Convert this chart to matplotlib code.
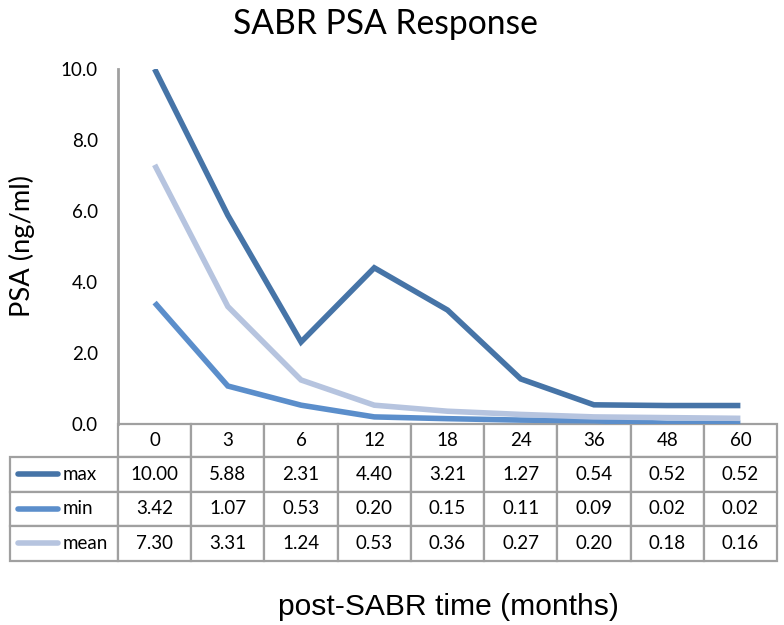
import matplotlib
matplotlib.use("Agg")
import matplotlib.pyplot as plt
from matplotlib.table import Table
from matplotlib.lines import Line2D

months = ["0", "3", "6", "12", "18", "24", "36", "48", "60"]
series_names = ["max", "min", "mean"]
psa_max = [10.00, 5.88, 2.31, 4.40, 3.21, 1.27, 0.54, 0.52, 0.52]
psa_min = [3.42, 1.07, 0.53, 0.20, 0.15, 0.11, 0.09, 0.02, 0.02]
psa_mean = [7.30, 3.31, 1.24, 0.53, 0.36, 0.27, 0.20, 0.18, 0.16]
y_ticks = [0, 2, 4, 6, 8, 10]

colors = ["#4674A7", "#5B8ECB", "#B6C4DF"]
series = [psa_max, psa_min, psa_mean]

FONT = "Lato"
W, H = 784, 625
fig = plt.figure(figsize=(W / 100, H / 100), dpi=100)
renderer = fig.canvas.get_renderer()


def fit_size(text_obj, target_px, horizontal=True):
    """Scale font size so that rendered text extent matches target pixel size."""
    for _ in range(3):
        bb = text_obj.get_window_extent(renderer)
        cur = bb.width if horizontal else bb.height
        text_obj.set_fontsize(text_obj.get_fontsize() * target_px / cur)
    return text_obj.get_fontsize()


# axes geometry in pixels
ax_l, ax_r, ax_t, ax_b = 118, 777, 69, 424
ax_w, ax_h = ax_r - ax_l, ax_b - ax_t
ax = fig.add_axes([ax_l / W, 1 - ax_b / H, ax_w / W, ax_h / H])

x = list(range(len(months)))
for vals, c in zip(series, colors):
    ax.plot(x, vals, color=c, lw=4, solid_capstyle="butt", solid_joinstyle="miter")

ax.set_xlim(-0.5, len(months) - 0.5)
ax.set_ylim(0, 10)
ax.set_yticks(y_ticks)
ax.set_xticks([])
for s in ["top", "right", "bottom"]:
    ax.spines[s].set_visible(False)
ax.spines["left"].set_color("#A0A0A0")
ax.spines["left"].set_linewidth(2)

# size for numbers: fit "10.00" to ~48 px as in the reference
probe = fig.text(0, 0, "10.00", fontfamily=FONT, fontsize=13)
FS = fit_size(probe, 48)
probe.remove()

ax.set_yticklabels([f"{v:.1f}" for v in y_ticks], fontfamily=FONT, fontsize=FS)
ax.tick_params(axis="y", length=0, pad=20 * 72 / 100)

# table
edge = "#A0A0A0"
label_w = (ax_l - 10) / ax_w
col_w = 1 / len(months)
hdr_h = 33 / ax_h
row_h = 34.5 / ax_h

tbl = Table(ax, loc=None)
for j, m in enumerate(months):
    tbl.add_cell(0, j, width=col_w, height=hdr_h, text=m, loc="center",
                 edgecolor=edge, facecolor="white")
for i, (name, vals) in enumerate(zip(series_names, series)):
    cell = tbl.add_cell(i + 1, -1, width=label_w, height=row_h, text=name, loc="left",
                        edgecolor=edge, facecolor="white")
    cell.PAD = 53 / 108
    for j, v in enumerate(vals):
        tbl.add_cell(i + 1, j, width=col_w, height=row_h, text=f"{v:.2f}", loc="center",
                     edgecolor=edge, facecolor="white")
tbl.auto_set_font_size(False)
for (r, c), cell in tbl.get_celld().items():
    cell.set_linewidth(1.6)
    t = cell.get_text()
    t.set_fontfamily(FONT)
    t.set_fontsize(FS)


def place(renderer=None):
    for j in range(len(months)):
        tbl[0, j].set_xy((j * col_w, -hdr_h))
    for i in range(3):
        top = -hdr_h - i * row_h
        tbl[i + 1, -1].set_xy((-label_w, top - row_h))
        for j in range(len(months)):
            tbl[i + 1, j].set_xy((j * col_w, top - row_h))


tbl._update_positions = place
ax.add_table(tbl)

# legend key lines in row label cells
for i, c in enumerate(colors):
    yc = -hdr_h - i * row_h - row_h / 2
    ax.add_line(Line2D([(18 - ax_l) / ax_w, (58 - ax_l) / ax_w], [yc, yc],
                       transform=ax.transAxes, color=c, lw=4, clip_on=False,
                       solid_capstyle="round"))

title = fig.text(385 / W, 1 - 24 / H, "SABR PSA Response", ha="center", va="center",
                 fontfamily=FONT, fontsize=22)
fit_size(title, 305)
ylab = fig.text(22 / W, 1 - 246 / H, "PSA (ng/ml)", ha="center", va="center", rotation=90,
                fontfamily=FONT, fontsize=18)
fit_size(ylab, 142, horizontal=False)
xlab = fig.text(448 / W, 1 - 607 / H, "post-SABR time (months)", ha="center", va="center",
                fontfamily="Liberation Sans", fontsize=18)
fit_size(xlab, 340)

fig.savefig("out.png", dpi=100)
